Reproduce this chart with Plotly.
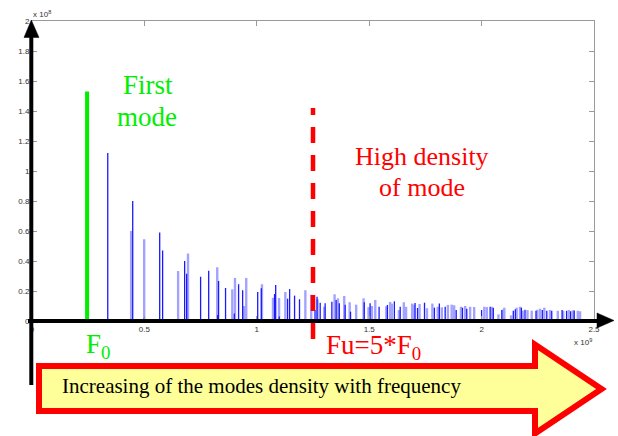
import plotly.graph_objects as go

# ---------------- data (frequency in units of 1e9 Hz, amplitude in units of 1e8) -------------
first_mode_freq = 0.245
first_mode_amp = 1.53
fu_freq = 1.25

dark_freq = [0.337, 0.448, 0.500, 0.568, 0.581, 0.679, 0.688, 0.750, 0.786, 0.826, 0.830, 0.861,
             0.900, 0.919, 0.937, 1.000, 1.004, 1.020, 1.079, 1.084, 1.100, 1.137, 1.146, 1.168,
             1.190, 1.259, 1.268, 1.282, 1.304, 1.334, 1.353, 1.367, 1.393, 1.417, 1.478, 1.504,
             1.544, 1.581, 1.612, 1.638, 1.704, 1.715, 1.746, 1.790, 1.812, 1.838, 1.887, 1.915,
             1.934, 2.000, 2.038, 2.052, 2.090, 2.141, 2.150, 2.177, 2.193, 2.242, 2.270, 2.290,
             2.312, 2.358, 2.378, 2.396, 2.412]
dark_amp = [1.12, 0.80, 0.02, 0.59, 0.47, 0.40, 0.315, 0.295, 0.335, 0.04, 0.267, 0.22,
            0.05, 0.245, 0.205, 0.02, 0.193, 0.218, 0.18, 0.24, 0.03, 0.149, 0.213, 0.169,
            0.145, 0.073, 0.162, 0.122, 0.118, 0.129, 0.14, 0.118, 0.109, 0.062, 0.125, 0.118,
            0.095, 0.107, 0.131, 0.095, 0.12, 0.087, 0.122, 0.089, 0.116, 0.095, 0.073, 0.089,
            0.082, 0.073, 0.095, 0.089, 0.073, 0.069, 0.078, 0.089, 0.075, 0.068, 0.073, 0.068,
            0.068, 0.073, 0.068, 0.065, 0.07]

light_freq = [0.441, 0.499, 0.650, 0.694, 0.824, 0.891, 0.903, 0.943, 0.953, 1.023, 1.072, 1.099,
              1.127, 1.216, 1.242, 1.270, 1.300, 1.346, 1.361, 1.389, 1.413, 1.442, 1.475, 1.497,
              1.512, 1.527, 1.576, 1.593, 1.601, 1.632, 1.654, 1.664, 1.691, 1.699, 1.724, 1.757,
              1.781, 1.805, 1.823, 1.850, 1.867, 1.878, 1.908, 1.927, 1.949, 1.967, 2.012, 2.023,
              2.045, 2.075, 2.097, 2.101, 2.131, 2.156, 2.171, 2.183, 2.204, 2.223, 2.248, 2.260,
              2.279, 2.304, 2.339, 2.363, 2.388, 2.406, 2.428, 2.438]
light_amp = [0.60, 0.545, 0.333, 0.45, 0.358, 0.211, 0.287, 0.10, 0.287, 0.245, 0.155, 0.153,
             0.193, 0.205, 0.175, 0.145, 0.095, 0.178, 0.151, 0.167, 0.125, 0.109, 0.151, 0.093,
             0.10, 0.14, 0.098, 0.127, 0.116, 0.073, 0.125, 0.095, 0.116, 0.109, 0.113, 0.085,
             0.116, 0.095, 0.091, 0.107, 0.109, 0.105, 0.095, 0.10, 0.095, 0.093, 0.095, 0.093,
             0.095, 0.044, 0.078, 0.089, 0.038, 0.089, 0.095, 0.069, 0.073, 0.069, 0.075, 0.082,
             0.089, 0.073, 0.068, 0.068, 0.073, 0.071, 0.068, 0.065]

x_tickvals = [0, 0.5, 1, 1.5, 2, 2.5]
x_ticktext = ["0", "0.5", "1", "1.5", "2", "2.5"]
y_tickvals = [0, 0.2, 0.4, 0.6, 0.8, 1.0, 1.2, 1.4, 1.6, 1.8, 2.0]
y_ticktext = ["0", "0.2", "0.4", "0.6", "0.8", "1", "1.2", "1.4", "1.6", "1.8", "2"]

# ---------------- layout geometry -------------
W, H = 618, 436
L, R, T, B = 32, 24, 21, 115
PW, PH = W - L - R, H - T - B


def px(x):
    return (x - L) / PW


def py(y):
    return (H - B - y) / PH


def stems(freqs, amps):
    xs, ys = [], []
    for f, a in zip(freqs, amps):
        xs += [f, f, None]
        ys += [0, a, None]
    return xs, ys


fig = go.Figure()
lx, ly = stems(light_freq, light_amp)
fig.add_trace(go.Scatter(x=lx, y=ly, mode="lines", line=dict(color="#a3a3ff", width=2.4),
                         hoverinfo="skip", showlegend=False))
dx, dy = stems(dark_freq, dark_amp)
fig.add_trace(go.Scatter(x=dx, y=dy, mode="lines", line=dict(color="#1a1aff", width=1.3),
                         hoverinfo="skip", showlegend=False))
gx, gy = stems([first_mode_freq], [first_mode_amp])
fig.add_trace(go.Scatter(x=gx, y=gy, mode="lines", line=dict(color="#00ee00", width=4),
                         hoverinfo="skip", showlegend=False))

GRAY = "#9a9a9a"
axis_common = dict(showgrid=False, zeroline=False, showline=True, linecolor=GRAY, linewidth=1,
                   mirror="ticks", ticks="inside", ticklen=5, tickcolor=GRAY, tickwidth=1,
                   tickfont=dict(family="Liberation Sans, Arial", size=8, color="#333333"))
fig.update_xaxes(range=[0, 2.5], tickvals=x_tickvals, ticktext=x_ticktext, **axis_common)
fig.update_yaxes(range=[0, 2.0], tickvals=y_tickvals, ticktext=y_ticktext, **axis_common)


def path(points):
    return "M " + " L ".join(f"{px(a):.5f},{py(b):.5f}" for a, b in points) + " Z"


shapes = []
# big yellow arrow
shapes.append(dict(type="path", xref="paper", yref="paper", layer="above",
                   path=path([(39, 366), (535, 366), (535, 344.5), (601.5, 389),
                              (535, 433.5), (535, 411), (39, 411)]),
                   fillcolor="#ffff99", line=dict(color="#ff0000", width=6)))
# y axis arrow
shapes.append(dict(type="line", xref="paper", yref="paper", layer="above",
                   x0=px(31.3), x1=px(31.3), y0=py(385), y1=py(36),
                   line=dict(color="black", width=4)))
shapes.append(dict(type="path", xref="paper", yref="paper", layer="above",
                   path=path([(24, 37.5), (39, 37.5), (31.3, 20)]),
                   fillcolor="black", line=dict(color="black", width=0.5)))
# x axis arrow
shapes.append(dict(type="line", xref="paper", yref="paper", layer="above",
                   x0=px(28), x1=px(598), y0=py(321), y1=py(321),
                   line=dict(color="black", width=4)))
shapes.append(dict(type="path", xref="paper", yref="paper", layer="above",
                   path=path([(597, 313), (597, 328), (614, 320.5)]),
                   fillcolor="black", line=dict(color="black", width=0.5)))
# red dashed Fu line
shapes.append(dict(type="line", xref="x", yref="paper", layer="above",
                   x0=fu_freq, x1=fu_freq, y0=py(339), y1=py(108),
                   line=dict(color="#ff0000", width=4.5, dash="16px,12px")))

SERIF = "Liberation Serif, Times New Roman, serif"
GREEN = "#00ee00"
RED = "#ff0000"


def ann(text, x, y, size, color, xanchor="center", family=SERIF):
    return dict(text=text, x=px(x), y=py(y), xref="paper", yref="paper", showarrow=False,
                xanchor=xanchor, yanchor="middle", borderpad=0,
                font=dict(family=family, size=size, color=color))


annotations = [
    ann("x 10<sup>8</sup>", 32, 14.5, 8, "#333333", "left", "Liberation Sans, Arial"),
    ann("x 10<sup>9</sup>", 573, 342, 8, "#333333", "left", "Liberation Sans, Arial"),
    ann("First", 147.5, 85, 27, GREEN),
    ann("mode", 147, 117, 27, GREEN),
    ann("High density", 421.5, 156, 26, RED),
    ann("of mode", 421.5, 187, 26, RED),
    ann("F<sub>0</sub>", 85, 346, 27, GREEN, "left"),
    ann("Fu=5*F<sub>0</sub>", 325, 347, 27, RED, "left"),
    ann("Increasing of the modes density with frequency", 61, 386, 21, "black", "left"),
]

fig.update_layout(width=W, height=H, margin=dict(l=L, r=R, t=T, b=B),
                  plot_bgcolor="white", paper_bgcolor="white",
                  shapes=shapes, annotations=annotations, showlegend=False)

fig.write_html("out.html")
